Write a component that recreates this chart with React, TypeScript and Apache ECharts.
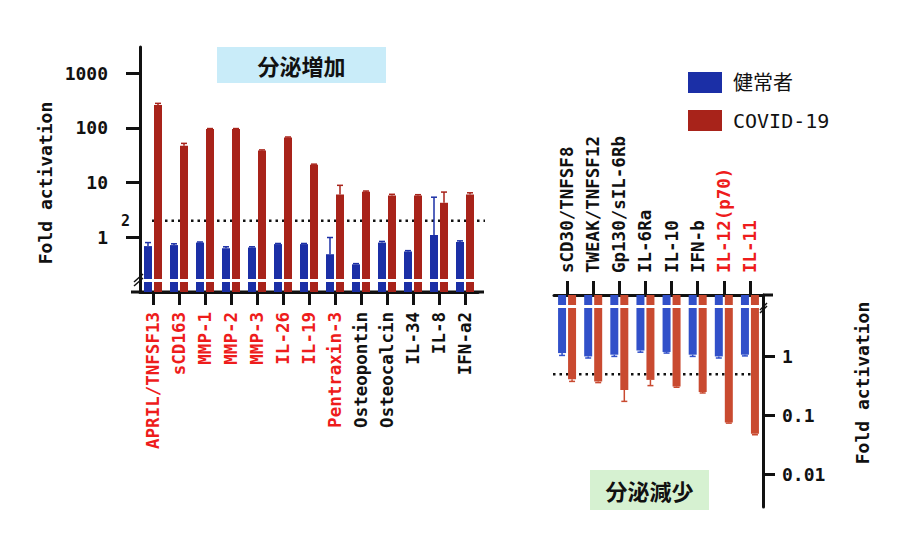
import React, { useEffect, useRef } from "react";
import * as echarts from "echarts";

// ---------- data ----------
const upCategories = ["APRIL/TNFSF13", "sCD163", "MMP-1", "MMP-2", "MMP-3", "IL-26", "IL-19", "Pentraxin-3", "Osteopontin", "Osteocalcin", "IL-34", "IL-8", "IFN-a2"];
const upHighlighted = [true, true, true, true, true, true, true, true, false, false, false, false, false];
const upHealthy = [0.69, 0.72, 0.8, 0.63, 0.65, 0.75, 0.75, 0.49, 0.32, 0.8, 0.55, 1.1, 0.82];
const upHealthyErr = [0.8, 0.76, 0.82, 0.67, 0.67, 0.77, 0.77, 0.99, 0.33, 0.84, 0.57, 5.4, 0.86];
const upCovid = [262, 47, 95, 95, 38.7, 66.7, 21.2, 6.05, 6.8, 5.8, 5.8, 4.27, 6.05];
const upCovidErr = [280, 52, 97, 97, 39.5, 68, 21.7, 8.9, 7.0, 6.1, 6.0, 6.7, 6.5];

const downCategories = ["sCD30/TNFSF8", "TWEAK/TNFSF12", "Gp130/sIL-6Rb", "IL-6Ra", "IL-10", "IFN-b", "IL-12(p70)", "IL-11"];
const downHighlighted = [false, false, false, false, false, false, true, true];
const downHealthy = [1.14, 1.0, 1.07, 1.26, 1.19, 1.07, 1.0, 1.07];
const downHealthyErr = [1.04, 0.94, 1.0, 1.18, 1.14, 1.0, 0.94, 1.02];
const downCovid = [0.41, 0.377, 0.27, 0.4, 0.31, 0.25, 0.076, 0.049];
const downCovidErr = [0.377, 0.36, 0.173, 0.32, 0.3, 0.24, 0.074, 0.047];

const upTicks = [1, 10, 100, 1000];
const downTicks = [1, 0.1, 0.01];
const upAxisRange = [0.1, 3000];
const downAxisRange = [0.0028, 11];
const upThreshold = 2;
const downThreshold = 0.5;

const seriesNames = ["健常者", "COVID-19"];
const titles = ["分泌増加", "分泌減少"];
const axisTitle = "Fold activation";

// ---------- style ----------
const MONO = "'DejaVu Sans Mono', 'Liberation Mono', monospace";
const CJK = "'Noto Sans CJK JP', 'Noto Sans CJK SC', sans-serif";
const INK = "#111";
const LABEL_RED = "#ee1c1c";
const upBlue = "#1b2fa6";
const upRed = "#a8231a";
const downBlue = "#3150c9";
const downRed = "#c94a30";

const lg = (v: number) => Math.log10(v);
const toData = (vals: number[], errs: number[]) => vals.map((v, i) => [i, lg(v), lg(errs[i])]);
const fmt = (v: number) => String(Number(Math.pow(10, v).toPrecision(1)));

function barRenderer(side: number, color: string, hangFromTop: boolean, gapOffset: number) {
  return (params: any, api: any) => {
    const cs = params.coordSys;
    const i = api.value(0);
    const p = api.coord([i, api.value(1)]);
    const pe = api.coord([i, api.value(2)]);
    const baseY = hangFromTop ? cs.y : cs.y + cs.height;
    const w = 8;
    const x0 = side < 0 ? p[0] - 9 : p[0] + 1;
    const cx = x0 + w / 2;
    const top = Math.min(baseY, p[1]);
    const h = Math.abs(baseY - p[1]);
    const gapY = hangFromTop ? baseY + gapOffset : baseY - gapOffset - 3;
    return {
      type: "group",
      children: [
        { type: "line", shape: { x1: cx, y1: p[1], x2: cx, y2: pe[1] }, style: { stroke: color, lineWidth: 1.5 } },
        { type: "line", shape: { x1: cx - 3, y1: pe[1], x2: cx + 3, y2: pe[1] }, style: { stroke: color, lineWidth: 1.5 } },
        { type: "rect", shape: { x: x0, y: top, width: w, height: h }, style: { fill: color } },
        { type: "rect", shape: { x: x0 - 1, y: gapY, width: w + 2, height: 3 }, style: { fill: "#fff" } },
      ],
    };
  };
}

const upThresholdRender = (params: any, api: any) => {
  const cs = params.coordSys;
  const y = api.coord([0, api.value(1)])[1];
  const base = cs.y + cs.height;
  return {
    type: "group",
    children: [
      { type: "line", shape: { x1: cs.x + 12, y1: y, x2: cs.x + cs.width + 7, y2: y }, style: { stroke: INK, lineWidth: 2.5, lineDash: [2.5, 4] } },
      { type: "text", style: { text: "2", x: cs.x - 10, y: y, align: "right", verticalAlign: "middle", fill: INK, font: `bold 15px ${MONO}` } },
      { type: "line", shape: { x1: cs.x - 9, y1: base, x2: cs.x + cs.width + 6, y2: base }, style: { stroke: INK, lineWidth: 3 } },
      { type: "line", shape: { x1: cs.x - 6, y1: base - 6, x2: cs.x + 3, y2: base - 14 }, style: { stroke: INK, lineWidth: 1.5 } },
      { type: "line", shape: { x1: cs.x - 6, y1: base - 10, x2: cs.x + 3, y2: base - 18 }, style: { stroke: INK, lineWidth: 1.5 } },
    ],
  };
};

const downThresholdRender = (params: any, api: any) => {
  const cs = params.coordSys;
  const y = api.coord([0, api.value(1)])[1];
  const rx = cs.x + cs.width;
  return {
    type: "group",
    children: [
      { type: "line", shape: { x1: cs.x - 1, y1: y, x2: rx - 10, y2: y }, style: { stroke: INK, lineWidth: 2.5, lineDash: [2.5, 4] } },
      { type: "line", shape: { x1: rx, y1: cs.y, x2: rx + 10, y2: cs.y }, style: { stroke: INK, lineWidth: 3 } },
      { type: "line", shape: { x1: rx - 3, y1: cs.y + 15, x2: rx + 4, y2: cs.y + 8 }, style: { stroke: INK, lineWidth: 1.5 } },
      { type: "line", shape: { x1: rx - 3, y1: cs.y + 18, x2: rx + 4, y2: cs.y + 11 }, style: { stroke: INK, lineWidth: 1.5 } },
    ],
  };
};

const catLabel = (highlight: boolean[]) => ({
  interval: 0,
  fontFamily: MONO,
  fontWeight: "bold",
  fontSize: 17.5,
  color: (_v: any, idx: number) => (highlight[idx] ? LABEL_RED : INK),
});

const option: any = {
  animation: false,
  backgroundColor: "#fff",
  legend: {
    data: seriesNames,
    orient: "vertical",
    left: 683,
    top: 67,
    icon: "rect",
    itemWidth: 34,
    itemHeight: 21,
    itemGap: 17,
    textStyle: { fontSize: 20, fontFamily: `${MONO}, ${CJK}`, color: INK, padding: [0, 0, 0, 6] },
  },
  grid: [
    { left: 140, top: 47, width: 338, height: 245, outerBoundsMode: "none", containLabel: false },
    { left: 554, top: 295, width: 209, height: 212, outerBoundsMode: "none", containLabel: false },
  ],
  xAxis: [
    {
      type: "category",
      gridIndex: 0,
      data: upCategories,
      position: "bottom",
      axisLine: { onZero: false, lineStyle: { color: INK, width: 3 } },
      axisTick: { show: true, alignWithLabel: true, length: 13, lineStyle: { color: INK, width: 3 } },
      axisLabel: { ...catLabel(upHighlighted), rotate: 90, margin: 20 },
    },
    {
      type: "category",
      gridIndex: 1,
      data: downCategories,
      position: "top",
      axisLine: { onZero: false, lineStyle: { color: INK, width: 3 } },
      axisTick: { show: true, alignWithLabel: true, length: 14, lineStyle: { color: INK, width: 3 } },
      axisLabel: { ...catLabel(downHighlighted), rotate: -90, margin: 22 },
    },
  ],
  yAxis: [
    {
      type: "value",
      gridIndex: 0,
      min: lg(upAxisRange[0]),
      max: lg(upAxisRange[1]),
      splitLine: { show: false },
      axisLine: { show: true, onZero: false, lineStyle: { color: INK, width: 3 } },
      axisTick: { show: true, length: 14, lineStyle: { color: INK, width: 3 }, customValues: upTicks.map(lg) },
      axisLabel: { customValues: upTicks.map(lg), formatter: fmt, margin: 32, fontSize: 18, fontWeight: "bold", fontFamily: MONO, color: INK },
    },
    {
      type: "value",
      gridIndex: 1,
      position: "right",
      min: lg(downAxisRange[0]),
      max: lg(downAxisRange[1]),
      splitLine: { show: false },
      axisLine: { show: true, onZero: false, lineStyle: { color: INK, width: 3 } },
      axisTick: { show: true, length: 12, lineStyle: { color: INK, width: 3 }, customValues: downTicks.map(lg) },
      axisLabel: { customValues: downTicks.map(lg), formatter: fmt, margin: 19, fontSize: 18, fontWeight: "bold", fontFamily: MONO, color: INK },
    },
  ],
  graphic: [
    { type: "rect", shape: { x: 217, y: 47, width: 169, height: 36 }, style: { fill: "#c9ecf9" } },
    { type: "text", x: 301.5, y: 65, style: { text: titles[0], align: "center", verticalAlign: "middle", fill: INK, font: `bold 22px ${CJK}` } },
    { type: "rect", shape: { x: 590, y: 470, width: 119, height: 40 }, style: { fill: "#d6f1d1" } },
    { type: "text", x: 649.5, y: 490, style: { text: titles[1], align: "center", verticalAlign: "middle", fill: INK, font: `bold 22px ${CJK}` } },
    { type: "text", x: 45, y: 183, rotation: Math.PI / 2, style: { text: axisTitle, align: "center", verticalAlign: "middle", fill: INK, font: `bold 18px ${MONO}` } },
    { type: "text", x: 862, y: 383, rotation: Math.PI / 2, style: { text: axisTitle, align: "center", verticalAlign: "middle", fill: INK, font: `bold 18px ${MONO}` } },
  ],
  series: [
    { type: "custom", name: "threshold-up", xAxisIndex: 0, yAxisIndex: 0, data: [[0, lg(upThreshold)]], encode: { x: 0, y: 1 }, renderItem: upThresholdRender, silent: true },
    { type: "custom", name: "threshold-down", xAxisIndex: 1, yAxisIndex: 1, data: [[0, lg(downThreshold)]], encode: { x: 0, y: 1 }, renderItem: downThresholdRender, silent: true },
    { type: "custom", name: seriesNames[0], xAxisIndex: 0, yAxisIndex: 0, data: toData(upHealthy, upHealthyErr), encode: { x: 0, y: 1 }, itemStyle: { color: upBlue }, renderItem: barRenderer(-1, upBlue, false, 10) },
    { type: "custom", name: seriesNames[1], xAxisIndex: 0, yAxisIndex: 0, data: toData(upCovid, upCovidErr), encode: { x: 0, y: 1 }, itemStyle: { color: upRed }, renderItem: barRenderer(1, upRed, false, 10) },
    { type: "custom", name: seriesNames[0], xAxisIndex: 1, yAxisIndex: 1, data: toData(downHealthy, downHealthyErr), encode: { x: 0, y: 1 }, itemStyle: { color: downBlue }, renderItem: barRenderer(-1, downBlue, true, 10) },
    { type: "custom", name: seriesNames[1], xAxisIndex: 1, yAxisIndex: 1, data: toData(downCovid, downCovidErr), encode: { x: 0, y: 1 }, itemStyle: { color: downRed }, renderItem: barRenderer(1, downRed, true, 10) },
  ],
};

export default function App() {
  const ref = useRef<HTMLDivElement>(null);
  useEffect(() => {
    const chart = echarts.init(ref.current as HTMLDivElement, null, { renderer: "svg" });
    chart.setOption(option);
    return () => chart.dispose();
  }, []);
  return <div ref={ref} style={{ position: "fixed", left: 0, top: 0, width: 900, height: 539, background: "#fff" }} />;
}
